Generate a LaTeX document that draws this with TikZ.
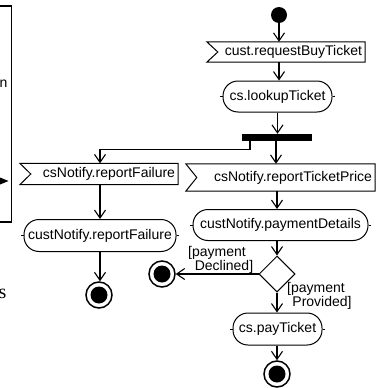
\documentclass[tikz,border=0pt]{standalone}
\usepackage{fontspec}
\setmainfont{Liberation Sans}
\newfontfamily\seriffont{Liberation Serif}
\usetikzlibrary{arrows.meta,shapes.geometric}
\begin{document}
\begin{tikzpicture}[x=1pt,y=-1pt,
  every node/.style={font=\fontsize{14}{14}\selectfont, text height=10pt, text depth=3pt},
  outline/.style={line width=1pt},
  notext/.style={text height=0pt, text depth=0pt, text width=0pt, inner sep=0pt},
  accbox/.style={rectangle, inner xsep=3pt, inner ysep=0pt, text width=#1, align=flush right},
  actbox/.style={rectangle, draw, line width=1pt, rounded corners=15pt, inner sep=0pt, minimum height=31pt},
  initdot/.style={notext, circle, fill, minimum size=16pt},
  forkbar/.style={notext, rectangle, fill, minimum width=70pt, minimum height=7pt},
  decision/.style={notext, diamond, draw, line width=1pt, minimum width=36pt, minimum height=36pt},
  finalnode/.style={notext, circle, draw, line width=1.5pt, minimum size=26pt,
     path picture={\fill (path picture bounding box.center) circle (8.5pt);}},
  flow/.style={line width=1.1pt, -{Straight Barb[length=8pt,width=11pt,line width=1.1pt]}},
  guard/.style={align=center, inner sep=0pt, text height=, text depth=}
]
\useasboundingbox (0,0) rectangle (377,388);

% clipped element at the left edge
\draw[line width=1.5pt] (0,6) -- (11.5,6) -- (11.5,222) -- (0,222);
\fill (0,177.5) -- (8.5,181) -- (0,184.5) -- cycle;
\node[anchor=base east, inner sep=0pt] (ntext) at (7.5,87) {n};
\node[anchor=base east, inner sep=0pt, font=\seriffont\fontsize{20}{20}\selectfont] (stext) at (6.5,298) {s};

% nodes
\node[initdot] (init) at (279,15) {};
\node[accbox=152pt, minimum height=20pt] (reqBuy) at (286,52) {cust.requestBuyTicket};
\node[actbox, minimum width=109pt] (lookup) at (277.5,96.5) {cs.lookupTicket};
\node[forkbar] (fork) at (277,137.5) {};
\node[accbox=152pt, minimum height=21pt] (repFail) at (99,174) {csNotify.reportFailure};
\node[accbox=183pt, minimum height=27pt] (repPrice) at (280.5,177.5) {csNotify.reportTicketPrice};
\node[actbox, minimum width=152pt, minimum height=32pt] (custFail) at (100,235.5) {custNotify.reportFailure};
\node[actbox, minimum width=175pt] (payDet) at (280.5,225) {custNotify.paymentDetails};
\node[decision] (dec) at (277,274) {};
\node[actbox, minimum width=89pt, minimum height=32pt] (pay) at (277.5,329) {cs.payTicket};
\node[finalnode] (endFail) at (99,295) {};
\node[finalnode] (endDecl) at (162,274) {};
\node[finalnode] (endPay) at (277,374) {};

% accept-event outlines
\foreach \n in {reqBuy,repFail,repPrice}{
  \draw[outline] (\n.north west) -- (\n.north east) -- (\n.south east) -- (\n.south west)
     -- ([xshift=11pt]\n.west) -- cycle;
}
% small ticks on action ends
\foreach \n in {lookup,custFail,payDet,pay}{
  \draw[line width=0.8pt] (\n.west) -- ++(-2.5,0);
  \draw[line width=0.8pt] (\n.east) -- ++(2.5,0);
}

% flows
\draw[flow] (init) -- (init |- reqBuy.north);
\draw[flow] (reqBuy.south -| init) -- (lookup.north -| init);
\draw[flow] (lookup.south) -- (fork.north -| lookup.south);
\draw[flow] (fork.south -| 276,0) -- (repPrice.north -| 276,0);
\draw[flow] ([xshift=-27pt]fork.south) -- ++(0,8) -| (repFail.north -| custFail);
\draw[flow] (repFail.south -| custFail) -- (custFail.north);
\draw[flow] (custFail.south) -- (endFail.north -| custFail.south);
\draw[flow] (repPrice.south -| dec) -- (payDet.north -| dec);
\draw[flow] (payDet.south -| dec) -- (dec.north);
\draw[flow] (dec.west) -- (endDecl.east);
\draw[flow] (dec.south) -- (pay.north -| dec);
\draw[flow] (pay.south -| dec) -- (endPay.north);

% guards
\node[guard] (gDecl) at (217,260) {[payment\\\hspace*{14pt}Declined]};
\node[guard] (gProv) at (316,296) {[payment\\\hspace*{12pt}Provided]};
\end{tikzpicture}
\end{document}
